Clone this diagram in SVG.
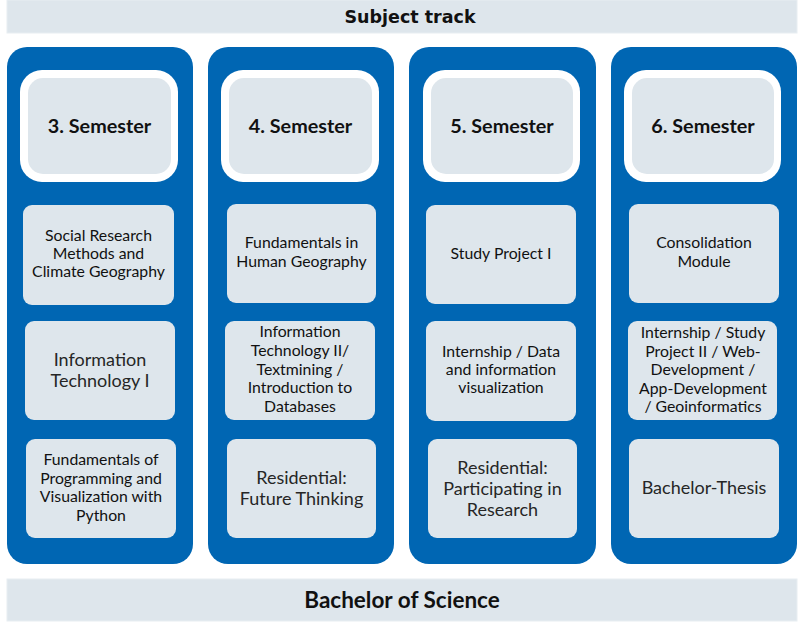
<svg xmlns="http://www.w3.org/2000/svg" width="800" height="630" viewBox="0 0 800 630">
<style>
.banner{fill:#dee6ec;stroke:#e8eef2;stroke-width:1}
.col{fill:#0066b3}
.semo{fill:#ffffff}
.semi{fill:#dee6ec}
.item{fill:#dee6ec}
text{font-family:Lato,"Noto Sans",sans-serif;fill:#111;text-anchor:middle}
.hd{font-family:"DejaVu Sans",sans-serif;font-weight:700;font-size:17.5px}
.hd2{font-weight:700;font-size:22.5px}
.sem{font-weight:700;font-size:19.8px}
.t{font-size:15.8px}
.tl{font-size:18px;font-weight:400;fill:#262626}
</style>
<rect width="800" height="630" fill="#ffffff"/>
<g id="subject-track">
<rect class="banner" x="7" y="0" width="790" height="33"/>
<text class="hd" x="410" y="23">Subject track</text>
</g>
<g id="bachelor">
<rect class="banner" x="7" y="579" width="790" height="42"/>
<text class="hd2" x="402" y="608">Bachelor of Science</text>
</g>
<g id="col3">
<rect class="col" x="7" y="47" width="186" height="517" rx="20"/>
<g id="sem3"><rect class="semo" x="20" y="70" width="158" height="112" rx="22"/><rect class="semi" x="28" y="78" width="143" height="96" rx="15"/><text class="sem" x="99.5" y="133">3. Semester</text></g>
<g id="c3a"><rect class="item" x="23" y="205" width="151" height="100" rx="9"/><text class="t" x="98.5" y="241">Social Research</text><text class="t" x="98.5" y="259">Methods and</text><text class="t" x="98.5" y="277">Climate Geography</text></g>
<g id="c3b"><rect class="item" x="25" y="321" width="150" height="99" rx="9"/><text class="tl" x="100" y="366">Information</text><text class="tl" x="100" y="387">Technology I</text></g>
<g id="c3c"><rect class="item" x="26" y="439" width="150" height="99" rx="9"/><text class="t" x="101" y="465">Fundamentals of</text><text class="t" x="101" y="483.5">Programming and</text><text class="t" x="101" y="502">Visualization with</text><text class="t" x="101" y="520.5">Python</text></g>
</g>
<g id="col4">
<rect class="col" x="208" y="47" width="186" height="517" rx="20"/>
<g id="sem4"><rect class="semo" x="221" y="70" width="158" height="112" rx="22"/><rect class="semi" x="229" y="78" width="143" height="96" rx="15"/><text class="sem" x="300.5" y="133">4. Semester</text></g>
<g id="c4a"><rect class="item" x="227" y="204" width="149" height="99" rx="9"/><text class="t" x="301.5" y="248">Fundamentals in</text><text class="t" x="301.5" y="267">Human Geography</text></g>
<g id="c4b"><rect class="item" x="225" y="321" width="150" height="99" rx="9"/><text class="t" x="300" y="337">Information</text><text class="t" x="300" y="356">Technology II/</text><text class="t" x="300" y="374.5">Textmining /</text><text class="t" x="300" y="393">Introduction to</text><text class="t" x="300" y="412">Databases</text></g>
<g id="c4c"><rect class="item" x="227" y="439" width="149" height="99" rx="9"/><text class="tl" x="301.5" y="484">Residential:</text><text class="tl" x="301.5" y="505">Future Thinking</text></g>
</g>
<g id="col5">
<rect class="col" x="409" y="47" width="187" height="517" rx="20"/>
<g id="sem5"><rect class="semo" x="423" y="70" width="157" height="112" rx="22"/><rect class="semi" x="431" y="78" width="142" height="96" rx="15"/><text class="sem" x="502" y="133">5. Semester</text></g>
<g id="c5a"><rect class="item" x="426" y="205" width="150" height="99" rx="9"/><text class="t" x="501" y="259">Study Project I</text></g>
<g id="c5b"><rect class="item" x="426" y="321" width="150" height="100" rx="9"/><text class="t" x="501" y="357">Internship / Data</text><text class="t" x="501" y="375">and information</text><text class="t" x="501" y="393">visualization</text></g>
<g id="c5c"><rect class="item" x="428" y="439" width="149" height="99" rx="9"/><text class="tl" x="502.5" y="474">Residential:</text><text class="tl" x="502.5" y="495">Participating in</text><text class="tl" x="502.5" y="516">Research</text></g>
</g>
<g id="col6">
<rect class="col" x="611" y="47" width="186" height="517" rx="20"/>
<g id="sem6"><rect class="semo" x="624" y="70" width="157" height="112" rx="22"/><rect class="semi" x="632" y="78" width="142" height="96" rx="15"/><text class="sem" x="703" y="133">6. Semester</text></g>
<g id="c6a"><rect class="item" x="629" y="204" width="150" height="99" rx="9"/><text class="t" x="704" y="248">Consolidation</text><text class="t" x="704" y="267">Module</text></g>
<g id="c6b"><rect class="item" x="628" y="321" width="149" height="99" rx="9"/><text class="t" x="703" y="338">Internship / Study</text><text class="t" x="703" y="356.5">Project II / Web-</text><text class="t" x="703" y="375">Development /</text><text class="t" x="703" y="393.5">App-Development</text><text class="t" x="703" y="412">/ Geoinformatics</text></g>
<g id="c6c"><rect class="item" x="629" y="439" width="150" height="99" rx="9"/><text class="tl" x="704" y="494">Bachelor-Thesis</text></g>
</g>
</svg>
